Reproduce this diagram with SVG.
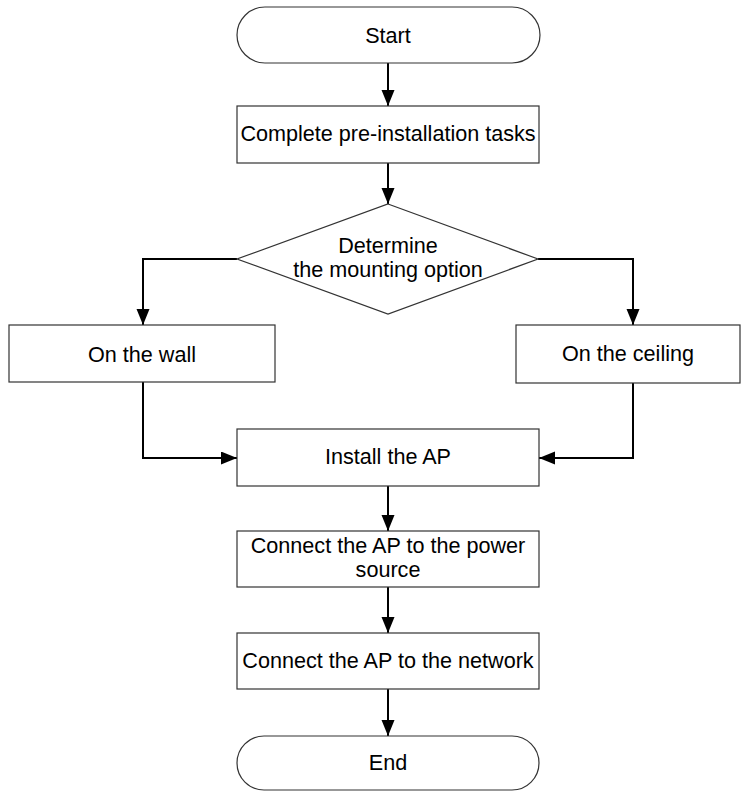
<svg xmlns="http://www.w3.org/2000/svg" width="749" height="791" viewBox="0 0 749 791">
<style>
.shape{fill:#ffffff;stroke:#333333;stroke-width:1.2}
.label{font-family:"Liberation Sans",Arial,sans-serif;font-size:21.6px;fill:#000000;text-anchor:middle}
.conn{fill:none;stroke:#000000;stroke-width:2;marker-end:url(#arrow)}
</style>
<defs>
<marker id="arrow" markerUnits="userSpaceOnUse" markerWidth="17" markerHeight="14" refX="16" refY="6.5" orient="auto">
<path d="M0,0 L16,6.5 L0,13 Z" fill="#000000"/>
</marker>
</defs>
<rect width="749" height="791" fill="#ffffff"/>
<g id="connectors">
<path class="conn" d="M388,63 L388,106"/>
<path class="conn" d="M388,163 L388,204"/>
<path class="conn" d="M237,259 L143,259 L143,325"/>
<path class="conn" d="M538,259 L633,259 L633,325"/>
<path class="conn" d="M143,382 L143,458 L237,458"/>
<path class="conn" d="M633,383 L633,458 L539,458"/>
<path class="conn" d="M388,486 L388,531"/>
<path class="conn" d="M388,587 L388,633"/>
<path class="conn" d="M388,689 L388,736"/>
</g>
<g id="start">
<rect class="shape" x="237" y="7" width="303" height="56" rx="28" ry="28"/>
<text class="label" x="388" y="43">Start</text>
</g>
<g id="pre-install">
<rect class="shape" x="237" y="106" width="302" height="57"/>
<text class="label" x="388" y="141">Complete pre-installation tasks</text>
</g>
<g id="decision">
<polygon class="shape" points="388,204 538,259 388,314 237,259"/>
<text class="label" x="388" y="253">Determine</text>
<text class="label" x="388" y="277">the mounting option</text>
</g>
<g id="wall">
<rect class="shape" x="9" y="325" width="266" height="57"/>
<text class="label" x="142" y="362">On the wall</text>
</g>
<g id="ceiling">
<rect class="shape" x="516" y="325" width="224" height="58"/>
<text class="label" x="628" y="361">On the ceiling</text>
</g>
<g id="install">
<rect class="shape" x="237" y="429" width="302" height="57"/>
<text class="label" x="388" y="464">Install the AP</text>
</g>
<g id="power">
<rect class="shape" x="237" y="531" width="302" height="56"/>
<text class="label" x="388" y="553">Connect the AP to the power</text>
<text class="label" x="388" y="577">source</text>
</g>
<g id="network">
<rect class="shape" x="237" y="633" width="302" height="56"/>
<text class="label" x="388" y="668">Connect the AP to the network</text>
</g>
<g id="end">
<rect class="shape" x="237" y="736" width="302" height="54" rx="27" ry="27"/>
<text class="label" x="388" y="770">End</text>
</g>
</svg>
